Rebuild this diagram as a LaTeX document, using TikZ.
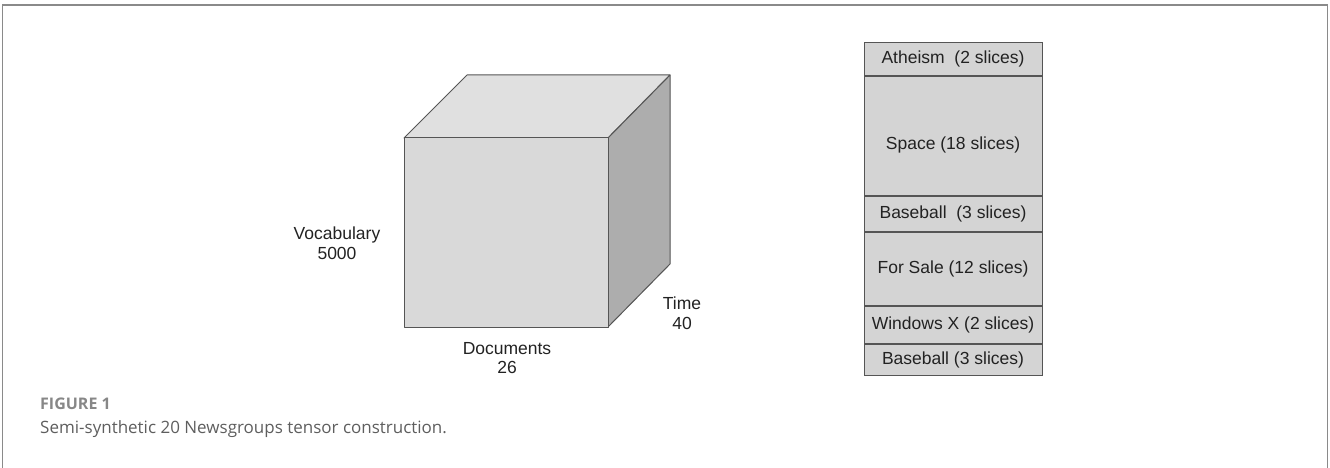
\documentclass[tikz,border=0pt]{standalone}
\usepackage{fontspec}
\setmainfont{Liberation Sans}
\newfontfamily\capfont{Open Sans}
\definecolor{edge}{HTML}{555555}
\definecolor{frontc}{HTML}{D9D9D9}
\definecolor{topc}{HTML}{E0E0E0}
\definecolor{sidec}{HTML}{ADADAD}
\definecolor{cellc}{HTML}{D4D4D4}
\definecolor{txt}{HTML}{222222}
\definecolor{framec}{HTML}{8A8A8A}
\definecolor{capc}{HTML}{5E5E5E}
\definecolor{figc}{HTML}{878787}
\begin{document}
\begin{tikzpicture}[x=1pt,y=-1pt,
  face/.style={draw=edge,line width=1pt,line join=round},
  lbl/.style={text=txt,font=\fontsize{17.5}{19.5}\selectfont,align=center,inner sep=0pt},
  cell/.style={draw=edge,fill=cellc,line width=1pt,minimum width=178pt,inner sep=0pt,text=txt,font=\fontsize{17.5}{20}\selectfont,anchor=north}]
\useasboundingbox (0,0) rectangle (1330,468);
% frame
\draw[framec,line width=1.5pt] (2.5,470) -- (2.5,5) -- (1327.5,5) -- (1327.5,470);
% cube
\coordinate (fa) at (404,138);
\coordinate (fb) at (608,138);
\coordinate (fc) at (608,327);
\coordinate (fd) at (404,327);
\coordinate (ba) at (467,75);
\coordinate (bb) at (670,75);
\coordinate (bc) at (670,264);
\path[face,fill=topc] (fa) -- (ba) -- (bb) -- (fb) -- cycle;
\path[face,fill=sidec] (fb) -- (bb) -- (bc) -- (fc) -- cycle;
\path[face,fill=frontc] (fa) -- (fb) -- (fc) -- (fd) -- cycle;
\node[lbl] (voc) at (337,243) {Vocabulary\\5000};
\node[lbl] (doc) at (507,358) {Documents\\26};
\node[lbl] (time) at (682,313) {Time\\40};
% stack
\node[cell,minimum height=33pt] (c1) at (953,42) {Atheism\ \ (2 slices)};
\node[cell,minimum height=119pt] (c2) at (c1.south) {};
\node[lbl,font=\fontsize{17.5}{20}\selectfont] (c2t) at ([yshift=-9pt]c2.center) {Space (18 slices)};
\node[cell,minimum height=35pt] (c3) at (c2.south) {Baseball\ \ (3 slices)};
\node[cell,minimum height=73pt] (c4) at (c3.south) {For Sale (12 slices)};
\node[cell,minimum height=37pt] (c5) at (c4.south) {Windows X (2 slices)};
\node[cell,minimum height=31pt] (c6) at (c5.south) {Baseball (3 slices)};
% caption
\node[anchor=base west,inner sep=0pt,text=figc,font=\capfont\bfseries\fontsize{16}{18}\selectfont] (fig) at (40,409) {FIGURE 1};
\node[anchor=base west,inner sep=0pt,text=capc,font=\capfont\fontsize{17}{20}\selectfont] (cap) at (40,433) {Semi-synthetic 20 Newsgroups tensor construction.};
\end{tikzpicture}
\end{document}
